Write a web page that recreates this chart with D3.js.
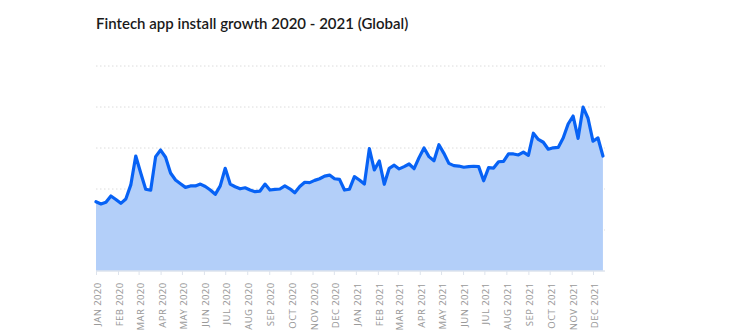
<!DOCTYPE html>
<html>
<head>
<meta charset="utf-8">
<script src="https://cdn.jsdelivr.net/npm/d3@7"></script>
<style>
  html, body { margin: 0; padding: 0; background: #fff; }
  svg { display: block; }
</style>
</head>
<body>
<svg id="chart" width="748" height="336"></svg>
<script>
// ---- data ----
const title = "Fintech app install growth 2020 - 2021 (Global)";
const startDate = "2020-01-01";   // first weekly observation
const stepDays = 7;               // weekly observations
const installIndex = [
  33.8, 32.7, 33.5, 36.6, 34.9, 33.0, 35.1, 42.0, 56.1, 47.8,
  39.9, 39.4, 55.8, 59.0, 55.5, 47.8, 44.4, 42.6, 40.8, 41.5,
  41.5, 42.4, 41.2, 39.5, 37.4, 41.5, 50.1, 42.4, 41.1, 40.1,
  40.6, 39.5, 38.7, 39.0, 42.4, 39.5, 39.8, 40.0, 41.5, 40.1,
  38.2, 41.2, 43.3, 43.1, 44.2, 45.0, 46.3, 46.8, 45.0, 44.7,
  39.5, 39.9, 46.0, 44.4, 42.4, 59.7, 49.3, 53.7, 42.3, 50.1,
  51.6, 49.8, 50.9, 52.2, 49.9, 55.3, 60.0, 55.8, 53.8, 61.6,
  57.4, 52.5, 51.4, 51.2, 50.6, 50.9, 51.1, 50.9, 44.0, 50.4,
  50.2, 53.3, 53.5, 57.1, 57.1, 56.6, 58.0, 56.4, 67.2, 64.2,
  62.8, 59.4, 60.1, 60.3, 64.9, 71.7, 75.6, 64.7, 79.9, 74.5,
  63.3, 64.9, 56.1
];
const yTicks = [0, 20, 40, 60, 80, 100];
const xDomain = ["2020-01-01", "2022-01-01"];

// ---- build ----
const svg = d3.select("#chart");
const parse = d3.utcParse("%Y-%m-%d");
const t0 = parse(startDate);
const data = installIndex.map((v, i) => ({ date: d3.utcDay.offset(t0, i * stepDays), value: v }));

const x = d3.scaleUtc().domain(xDomain.map(parse)).range([96, 615]);
const y = d3.scaleLinear().domain([0, 100]).range([271, 66]);

const lastX = x(data[data.length - 1].date);

// title
svg.append("text")
  .attr("x", 96).attr("y", 29)
  .attr("font-family", "Lato, 'Noto Sans', sans-serif")
  .attr("font-weight", 600)
  .attr("font-size", 15)
  .attr("fill", "#1a1a1a")
  .text(title);

// grid lines
svg.append("g")
  .selectAll("line")
  .data(yTicks.filter(d => d > 0))
  .join("line")
  .attr("x1", x.range()[0]).attr("x2", lastX + 2)
  .attr("y1", d => y(d)).attr("y2", d => y(d))
  .attr("stroke", "#dcdcdc")
  .attr("stroke-width", 1)
  .attr("stroke-dasharray", "1.5,2.5");

// area
svg.append("path")
  .datum(data)
  .attr("fill", "#b3cff9")
  .attr("d", d3.area().x(d => x(d.date)).y0(y(0)).y1(d => y(d.value)));

// line
svg.append("path")
  .datum(data)
  .attr("fill", "none")
  .attr("stroke", "#0762f5")
  .attr("stroke-width", 3.2)
  .attr("stroke-linejoin", "round")
  .attr("stroke-linecap", "round")
  .attr("d", d3.line().x(d => x(d.date)).y(d => y(d.value)));

// x axis
const months = d3.utcMonth.range(parse("2020-01-01"), parse("2021-12-02"));
const fmt = d3.utcFormat("%b %Y");
const axis = svg.append("g")
  .attr("transform", `translate(0,${y(0)})`)
  .call(d3.axisBottom(x).tickValues(months).tickSize(4).tickSizeOuter(0).tickFormat(d => fmt(d).toUpperCase()));
axis.select(".domain").attr("stroke", "#dde3ec").attr("stroke-width", 1.5)
  .attr("d", `M${x.range()[0]},0H${lastX + 2}`);
axis.selectAll(".tick line").attr("stroke", "#dde3ec");
axis.selectAll(".tick text")
  .attr("font-family", "'Noto Sans', sans-serif")
  .attr("font-size", 9.5)
  .attr("letter-spacing", 0.4)
  .attr("fill", "#9a9a9a")
  .attr("text-anchor", "end")
  .attr("transform", "rotate(-90)")
  .attr("x", -11.5)
  .attr("y", 4.5)
  .attr("dy", 0)
  .attr("dx", 0);
</script>
</body>
</html>
